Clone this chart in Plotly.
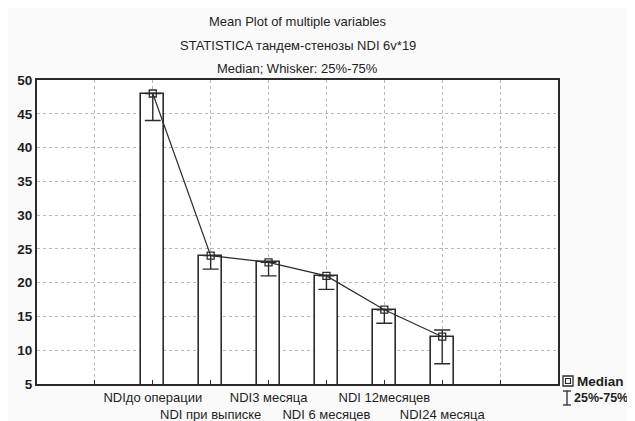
import plotly.graph_objects as go

categories = ["NDIдо операции", "NDI при выписке", "NDI3 месяца",
              "NDI 6 месяцев", "NDI 12месяцев", "NDI24 месяца"]
positions = [1, 2, 3, 4, 5, 6]
median = [48, 24, 23, 21, 16, 12]
q25 = [44, 22, 21, 19, 14, 8]
q75 = [48, 24, 23, 21, 16, 13]
y_ticks = [5, 10, 15, 20, 25, 30, 35, 40, 45, 50]

dark = "#2b2b2b"
txt = "#1e1e1e"
font_fam = "Liberation Sans, Arial, sans-serif"

fig = go.Figure()
fig.add_trace(go.Bar(
    x=positions, y=median, width=0.4,
    marker=dict(color="white", line=dict(color=dark, width=1.6)),
    showlegend=False, hoverinfo="skip"))
fig.add_trace(go.Scatter(
    x=positions, y=median, mode="lines+markers",
    line=dict(color=dark, width=1.2),
    marker=dict(symbol="square-open", size=7, color=dark, line=dict(width=1.3)),
    error_y=dict(type="data", symmetric=False,
                 array=[u - m for u, m in zip(q75, median)],
                 arrayminus=[m - l for m, l in zip(median, q25)],
                 color=dark, thickness=1.4, width=8),
    showlegend=False))

tickvals = [0] + positions + [7]
ticktext = [""] + [c if i % 2 == 0 else "<br>" + c for i, c in enumerate(categories)] + [""]

# page has an 8px body margin: figure is offset by 8px
OFF = 8
fig.update_layout(
    width=635 - OFF, height=421 - OFF,
    margin=dict(l=37 - OFF, r=77, t=80 - OFF, b=37, autoexpand=False),
    paper_bgcolor="#fafafa", plot_bgcolor="white",
    font=dict(family=font_fam, color=txt),
    bargap=0,
    xaxis=dict(range=[-1, 8], tickvals=tickvals, ticktext=ticktext, tickangle=0,
               automargin=False,
               showgrid=True, gridcolor="#b8b8b8", griddash="dot", gridwidth=1,
               ticks="inside", ticklen=4, tickcolor=dark,
               showline=True, linecolor=dark, linewidth=2, mirror=True,
               tickfont=dict(size=13, family=font_fam, color=txt), zeroline=False),
    yaxis=dict(range=[5, 50], tickvals=y_ticks, automargin=False,
               showgrid=True, gridcolor="#b8b8b8", griddash="dot", gridwidth=1,
               ticks="", showline=True, linecolor=dark, linewidth=2, mirror=True,
               tickfont=dict(size=13.5, family=font_fam, color=txt, weight="bold"),
               zeroline=False),
)

# helpers mapping page pixels to paper coords
def px_x(p):
    return (p - 37) / 521

def px_y(p):
    return (384 - p) / 304

titles = ["Mean Plot of multiple variables", "STATISTICA тандем-стенозы NDI 6v*19",
          "Median; Whisker: 25%-75%"]
for i, t in enumerate(titles):
    fig.add_annotation(text=t, xref="paper", yref="paper", x=0.5,
                       y=px_y(22 + 23 * i), xanchor="center", yanchor="middle",
                       showarrow=False, font=dict(size=13, family=font_fam, color=txt))

fig.add_shape(type="rect", xref="paper", yref="paper",
              x0=px_x(563), x1=px_x(573), y0=px_y(386), y1=px_y(376),
              line=dict(color=dark, width=1.3), fillcolor="white")
fig.add_shape(type="rect", xref="paper", yref="paper",
              x0=px_x(565.5), x1=px_x(570.5), y0=px_y(383.5), y1=px_y(378.5),
              line=dict(color=dark, width=1.2), fillcolor="white")
fig.add_shape(type="line", xref="paper", yref="paper",
              x0=px_x(567), x1=px_x(567), y0=px_y(391), y1=px_y(405),
              line=dict(color=dark, width=1.3))
fig.add_shape(type="line", xref="paper", yref="paper",
              x0=px_x(563), x1=px_x(571), y0=px_y(391), y1=px_y(391),
              line=dict(color=dark, width=1.3))
fig.add_shape(type="line", xref="paper", yref="paper",
              x0=px_x(563), x1=px_x(571), y0=px_y(405), y1=px_y(405),
              line=dict(color=dark, width=1.3))
fig.add_annotation(text="Median", xref="paper", yref="paper", x=px_x(575), y=px_y(381),
                   xanchor="left", yanchor="middle", showarrow=False,
                   font=dict(size=13.5, family=font_fam, color=txt, weight="bold"))
fig.add_annotation(text="25%-75%", xref="paper", yref="paper", x=px_x(572), y=px_y(398),
                   xanchor="left", yanchor="middle", showarrow=False,
                   font=dict(size=12.5, family=font_fam, color=txt, weight="bold"))

fig.write_html("out.html")
